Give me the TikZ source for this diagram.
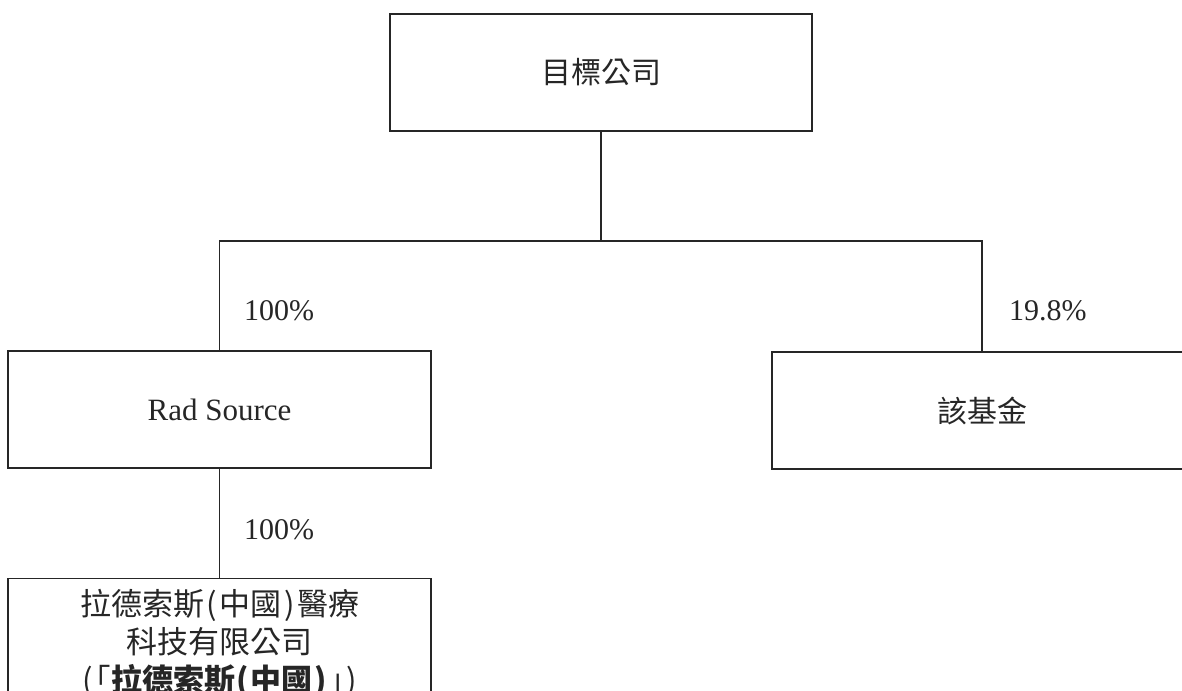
\documentclass[tikz,border=0pt]{standalone}
\usepackage{fontspec}
\setmainfont{Liberation Serif}
\newfontfamily\cjk{Noto Sans CJK TC}
\newcommand\hwp[1]{\makebox[0.5em][c]{#1}}
\begin{document}
\begin{tikzpicture}[x=1pt,y=-1pt,
  box/.style={draw=black!85, line width=1.3pt, inner sep=0pt, minimum height=117pt, text=black!85},
  lbl/.style={anchor=west, inner sep=0pt, text=black!85, font=\fontsize{30}{36}\selectfont},
  conn/.style={draw=black!85, line width=1.3pt}]
\useasboundingbox (0,0) rectangle (1182,690);
\clip (0,0) rectangle (1182,690);
\node[box, minimum width=422pt, font=\cjk\fontsize{30}{36}\selectfont] (top) at (601,72.5) {目標公司};
\node[box, minimum width=423pt, font=\fontsize{31}{36}\selectfont] (rad) at (219.5,409.5) {Rad Source};
\node[box, minimum width=420pt, font=\cjk\fontsize{30}{36}\selectfont] (fund) at (982,410.5) {該基金};
\node[draw=black!85, line width=1.3pt, anchor=north, minimum width=423pt, inner xsep=0pt, inner ysep=11pt,
  align=center, text=black!85, font=\cjk\fontsize{31}{38}\selectfont] (sub) at (219.5,578)
  {拉德索斯\hwp{(}中國\hwp{)}醫療\\科技有限公司\\\hwp{(}\hwp{｢}{\bfseries 拉德索斯\hwp{(}中國\hwp{)}}\hwp{｣}\hwp{)}};
\coordinate (bar) at (601,241);
\draw[conn] (top.south) -- (bar);
\draw[conn] (rad.north) |- (bar) -| (fund.north);
\draw[conn] (rad.south) -- (sub.north);
\node[lbl] (l1) at (244,311) {100\%};
\node[lbl] (l2) at (1009,311) {19.8\%};
\node[lbl] (l3) at (244,530) {100\%};
\end{tikzpicture}
\end{document}
